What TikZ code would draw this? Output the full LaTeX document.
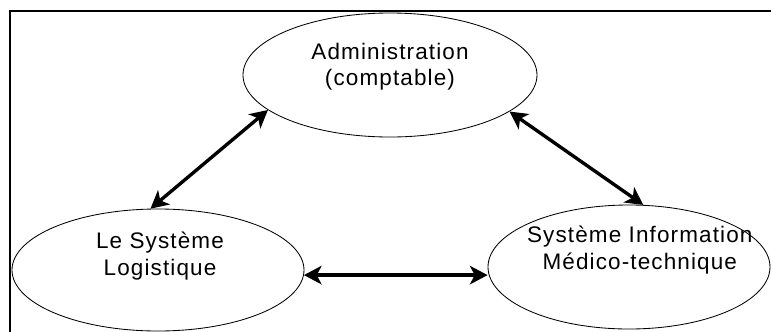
\documentclass[tikz,border=0pt]{standalone}
\usepackage{fontspec}
\setmainfont[LetterSpace=5]{Liberation Sans}
\usepackage{xcolor}
\usepackage{tikz}
\usetikzlibrary{shapes.geometric, arrows.meta, positioning, calc}

\begin{document}
\begin{tikzpicture}[
    bulle/.style={ellipse, draw=black, line width=0.6pt, minimum height=3.1cm, inner sep=0pt},
    texte/.style={align=center, font=\fontsize{16}{19}\selectfont},
    fleche/.style={{Stealth[length=4.4mm, width=4.6mm, inset=1.2mm]}-{Stealth[length=4.4mm, width=4.6mm, inset=1.2mm]}, line width=2.4pt, black}
]

% cadre
\clip (0,0) rectangle (19.275,-8.275);
\draw[line width=1.4pt] (0.25,-0.275) rectangle (20,-9);

% en haut
\node[bulle, minimum width=7.35cm] (admin) at (9.75,-1.875) {};
\node[texte] (admintxt) at ($(admin.center)+(0,0.21)$) {Administration\\(comptable)};

% en bas a gauche
\node[bulle, minimum width=7.3cm, minimum height=3.05cm] (logis) at (3.95,-6.75) {};
\node[texte] (logistxt) at ($(logis.center)+(0.05,0.34)$) {Le Système\\Logistique};

% en bas a droite
\node[bulle, minimum width=7.05cm] (medico) at (15.725,-6.675) {};
\node[texte] (medicotxt) at ($(medico.center)+(0.27,0.42)$) {Système Information\\Médico-technique};

% fleches
\draw[fleche] (logis.97.5) -- (admin.196.4);
\draw[fleche] (admin.343.9) -- (medico.77.3);
\draw[fleche] (logis.-2) -- (logis.-2 -| medico.west);

\end{tikzpicture}
\end{document}
